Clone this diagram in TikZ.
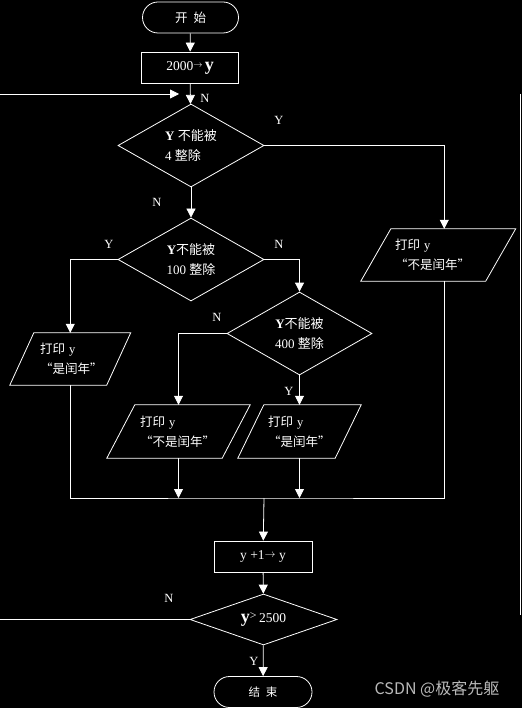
\documentclass[tikz,border=0pt]{standalone}
\usepackage{fontspec}
\setmainfont{Liberation Serif}
\newfontfamily\cjk{Noto Sans CJK SC}
\usetikzlibrary{shapes.geometric,shapes.misc,arrows.meta}
\definecolor{wm}{RGB}{185,185,185}
\newcommand\paraoutline[2]{\draw[line] ([xshift=#2]#1.north west) -- ([xshift=#2]#1.north east) -- ([xshift=-#2]#1.south east) -- ([xshift=-#2]#1.south west) -- cycle;}
\begin{document}
\begin{tikzpicture}[x=1pt,y=-1pt,
  line/.style={draw=white,line width=0.8pt},
  arr/.style={line,-{Triangle[width=9pt,length=9pt]}},
  term/.style={rounded rectangle,draw=white,line width=0.8pt,text=white,minimum width=96pt,minimum height=31pt,inner sep=0pt,font=\fontsize{12.5}{14}\selectfont\cjk},
  procbox/.style={rectangle,draw=white,line width=0.8pt,text=white,minimum width=97pt,minimum height=31pt,inner sep=0pt,font=\fontsize{13.5}{16}\selectfont},
  decision/.style={diamond,draw=white,line width=0.8pt,text=white,inner sep=0pt,align=left,font=\fontsize{13}{20}\selectfont},
  iotext/.style={rectangle,text=white,align=left,inner ysep=0pt,minimum height=52pt,font=\fontsize{12.5}{20}\selectfont},
  lbl/.style={text=white,font=\fontsize{12.5}{14}\selectfont,inner sep=0pt},
]
\fill[black] (0,0) rectangle (522,708);
\useasboundingbox (0,0) rectangle (522,708);

% nodes
\node[term] (start) at (190.5,17.5) {开\hspace{6pt}始};
\node[procbox] (b1) at (190,67.5) {2000\raisebox{3pt}{\fontsize{9}{9}\selectfont$\rightarrow$}\,{\fontsize{18}{18}\selectfont\textbf{y}}};
\node[decision,aspect=1.76,minimum width=146pt,minimum height=83pt] (d1) at (191,145.5) {\textbf{Y} {\cjk 不能被}\\4 {\cjk 整除}};
\node[decision,aspect=1.76,minimum width=146pt,minimum height=83pt,align=center] (d2) at (191,259.5) {\textbf{Y}{\cjk 不能被}\\100 {\cjk 整除}};
\node[decision,aspect=1.76,minimum width=145pt,minimum height=83pt,align=center] (d3) at (299.5,333.5) {\textbf{Y}{\cjk 不能被}\\400 {\cjk 整除}};

\node[iotext,text width=86.5pt,inner xsep=19pt] (pr) at (438.25,255) {{\cjk 打印} y\\{\cjk “不是闰年”}};
\node[iotext,text width=60.5pt,inner xsep=18pt] (pl) at (70.25,359) {{\cjk 打印} y\\{\cjk “是闰年”}};
\node[iotext,text width=77pt,inner xsep=19pt,minimum height=53pt] (pml) at (178.5,431.5) {{\cjk 打印} y\\{\cjk “不是闰年”}};
\node[iotext,text width=63pt,inner xsep=17pt,minimum height=53pt] (pmr) at (299.5,431.5) {{\cjk 打印} y\\{\cjk “是闰年”}};
\paraoutline{pr}{15pt}
\paraoutline{pl}{12pt}
\paraoutline{pml}{14pt}
\paraoutline{pmr}{13pt}

\node[procbox,minimum width=98pt] (b2) at (263,556.5) {y +1\raisebox{2pt}{\fontsize{11}{11}\selectfont$\rightarrow$} y};
\node[decision,aspect=2.9,minimum width=147pt,minimum height=51pt,font=\fontsize{13.5}{16}\selectfont] (d4) at (263.5,619.5) {{\fontsize{18}{18}\selectfont\textbf{y}}\raisebox{3pt}{\fontsize{12}{12}\selectfont >}\,2500};
\node[term,minimum width=98pt,font=\fontsize{11.5}{14}\selectfont\cjk] (end) at (263,692) {结\hspace{6pt}束};

\coordinate (m) at (264,498);
\coordinate (loopA) at (0,94);
\coordinate (loopB) at (179,94);
\coordinate (r1) at (520.5,94);
\coordinate (r2) at (520.5,615);

% connectors
\draw[arr] (start) -- (b1);
\draw[arr] (b1) -- (d1);
\draw[arr] (loopA) -- (loopB);
\draw[arr] (d1.east) -| ([xshift=6pt]pr.north);
\draw[arr] (d1) -- (d2);
\draw[arr] (d2.west) -| (pl.north);
\draw[arr] (d2.east) -| (d3.north);
\draw[arr] (d3.west) -| (pml.north);
\draw[arr] (d3) -- (pmr);
\draw[line] (pl.south) |- (m) -| ([xshift=6pt]pr.south);
\draw[arr] (pml.south) -- (pml.south |- m);
\draw[arr] (pmr.south) -- (pmr.south |- m);
\draw[arr] (m) -- (b2);
\draw[arr] (b2) -- (d4);
\draw[arr] (d4) -- (end);
\draw[line] (d4.west) -- (d4.west -| loopA);
\draw[line] (r1) -- (r2);

% branch labels
\node[lbl] (n0) at (205,98) {N};
\node[lbl] (y1) at (279,120) {Y};
\node[lbl] (n1) at (157,202) {N};
\node[lbl] (y2) at (109,244) {Y};
\node[lbl] (n2) at (279,244) {N};
\node[lbl] (n3) at (217,317) {N};
\node[lbl] (y3) at (289,391) {Y};
\node[lbl] (n4) at (169,598) {N};
\node[lbl] (y4) at (254,661) {Y};

\node[text=wm,font=\fontsize{16}{18}\selectfont\cjk,inner sep=0pt] (wmark) at (437,689) {CSDN @极客先躯};
\end{tikzpicture}
\end{document}
